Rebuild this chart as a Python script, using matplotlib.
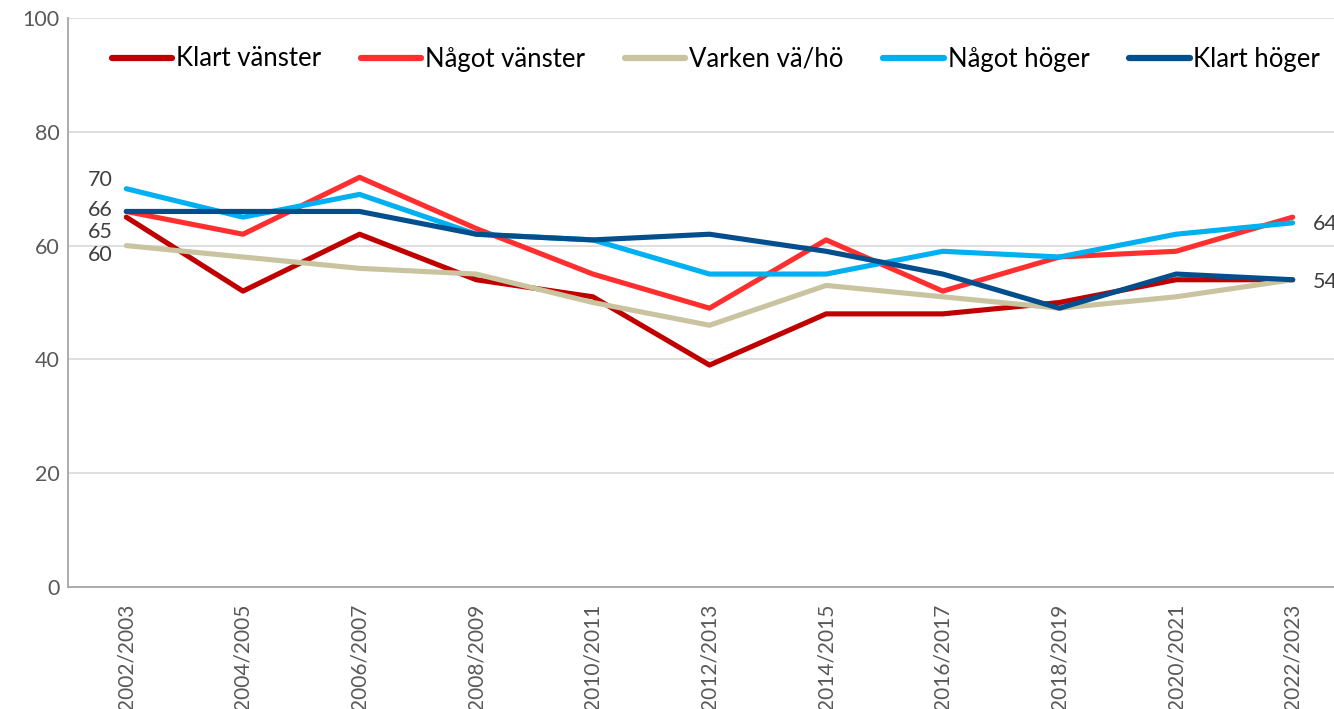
import matplotlib
matplotlib.use("Agg")
import matplotlib.pyplot as plt

plt.rcParams['font.family'] = ['Lato', 'DejaVu Sans']

years = ["2002/2003", "2004/2005", "2006/2007", "2008/2009", "2010/2011",
         "2012/2013", "2014/2015", "2016/2017", "2018/2019", "2020/2021", "2022/2023"]
klart_vanster = [65, 52, 62, 54, 51, 39, 48, 48, 50, 54, 54]
nagot_vanster = [66, 62, 72, 63, 55, 49, 61, 52, 58, 59, 65]
varken = [60, 58, 56, 55, 50, 46, 53, 51, 49, 51, 54]
nagot_hoger = [70, 65, 69, 62, 61, 55, 55, 59, 58, 62, 64]
klart_hoger = [66, 66, 66, 62, 61, 62, 59, 55, 49, 55, 54]

series = [
    ("Klart vänster", klart_vanster, "#C00000"),
    ("Något vänster", nagot_vanster, "#FF2F2F"),
    ("Varken vä/hö", varken, "#C9C3A0"),
    ("Något höger", nagot_hoger, "#00B0F0"),
    ("Klart höger", klart_hoger, "#034E8C"),
]

W, H = 1334, 709
fig = plt.figure(figsize=(W / 100, H / 100), dpi=100)
left, right, top, bottom = 68, 1351, 18, 587
ax = fig.add_axes([left / W, 1 - bottom / H, (right - left) / W, (bottom - top) / H])

x = list(range(len(years)))
for name, vals, col in series:
    ax.plot(x, vals, color=col, lw=3.7, label=name, solid_capstyle='round', zorder=3)

ax.set_xlim(-0.5, len(years) - 0.5)
ax.set_ylim(0, 100)
ax.set_yticks([0, 20, 40, 60, 80, 100])
ax.set_xticks(x)
ax.set_xticklabels(years, rotation=90, fontsize=15, color="#595959")
ax.tick_params(axis='y', labelsize=15.5, labelcolor="#595959", length=0, pad=6)
ax.tick_params(axis='x', length=0, pad=12)
ax.grid(axis='y', color="#D9D9D9", lw=1.2, zorder=0)
for s in ['top', 'right']:
    ax.spines[s].set_visible(False)
for s in ['left', 'bottom']:
    ax.spines[s].set_color("#A6A6A6")
    ax.spines[s].set_linewidth(1.3)

# data labels (first period: four labels stacked, last period: two)
first_labels = [("70", nagot_hoger[0]), ("66", klart_hoger[0]), ("65", klart_vanster[0]), ("60", varken[0])]
offsets = [1.6, 0.3, -2.6, -1.6]
for (txt, v), off in zip(first_labels, offsets):
    ax.text(-0.12, v + off, txt, ha='right', va='center', fontsize=15.5, color="#404040")
ax.text(10.17, nagot_hoger[-1] - 0.2, str(nagot_hoger[-1]), ha='left', va='center', fontsize=15.5, color="#404040")
ax.text(10.17, klart_hoger[-1] - 0.4, str(klart_hoger[-1]), ha='left', va='center', fontsize=15.5, color="#404040")

leg = fig.legend(loc='center', bbox_to_anchor=(716 / W, 1 - 59 / H), ncol=5, frameon=False,
                 fontsize=18.5, handlelength=2.35, handletextpad=0.15, columnspacing=1.55)
for line in leg.get_lines():
    line.set_linewidth(4.5)

fig.savefig("out.png", dpi=100)
